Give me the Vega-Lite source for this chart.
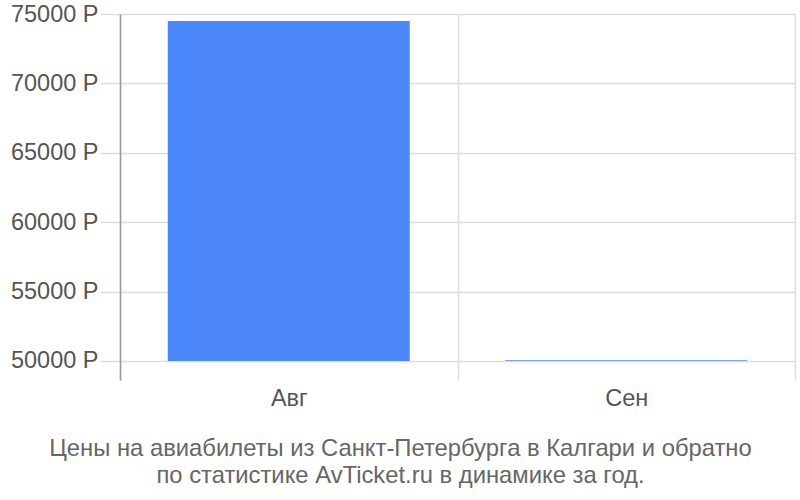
{
  "$schema": "https://vega.github.io/schema/vega-lite/v6.json",
  "width": 675,
  "height": 366,
  "autosize": {"type": "none"},
  "padding": {"left": 120, "top": 14, "right": 5, "bottom": 120},
  "background": "white",
  "config": {
    "font": "Liberation Sans",
    "view": {"stroke": null}
  },
  "title": {
    "text": ["Цены на авиабилеты из Санкт-Петербурга в Калгари и обратно", "по статистике AvTicket.ru в динамике за год."],
    "orient": "bottom",
    "anchor": "middle",
    "dx": -57,
    "offset": 27,
    "fontSize": 23.8,
    "fontWeight": "normal",
    "color": "#666666",
    "lineHeight": 27,
    "font": "Liberation Sans"
  },
  "data": {
    "values": [
      {"month": "Авг", "price": 74500, "base": 50000},
      {"month": "Сен", "price": 50050, "base": 50000}
    ]
  },
  "mark": {"type": "bar", "color": "#4c88f9", "width": {"band": 0.717}},
  "encoding": {
    "x": {
      "field": "month",
      "type": "nominal",
      "sort": null,
      "scale": {"paddingInner": 0, "paddingOuter": 0},
      "axis": {
        "title": null,
        "labelAngle": 0,
        "labelFontSize": 23.5,
        "labelColor": "#555555",
        "labelPadding": 6,
        "ticks": false,
        "domain": false,
        "grid": true,
        "gridColor": "#dddddd",
        "gridWidth": 1.5,
        "tickBand": "extent"
      }
    },
    "y": {
      "field": "price",
      "type": "quantitative",
      "scale": {"domain": [48630, 75000], "nice": false, "zero": false},
      "axis": {
        "title": null,
        "values": [50000, 55000, 60000, 65000, 70000, 75000],
        "labelExpr": "datum.value + ' Р'",
        "labelFontSize": 23.5,
        "labelColor": "#555555",
        "labelPadding": 2,
        "tickSize": 20,
        "tickColor": "#dddddd",
        "tickWidth": 1.5,
        "grid": true,
        "gridColor": "#dddddd",
        "gridWidth": 1.5,
        "domain": true,
        "domainColor": "#999999",
        "domainWidth": 1.5
      }
    },
    "y2": {"field": "base"}
  }
}
